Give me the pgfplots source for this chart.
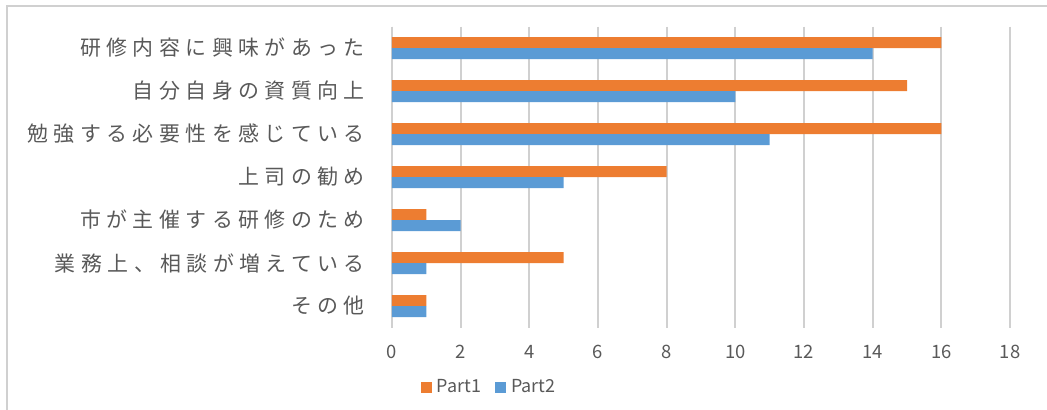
\documentclass[border=0pt]{standalone}
\usepackage{pgfplots}
\pgfplotsset{compat=1.18}
\usepackage{fontspec}
\setmainfont{Noto Sans CJK JP}
\newfontfamily\labelfont[LetterSpace=26]{Noto Sans CJK JP}
\definecolor{partone}{HTML}{ED7D31}
\definecolor{parttwo}{HTML}{5B9BD5}
\definecolor{gridgray}{HTML}{D0D0D0}
\definecolor{textgray}{HTML}{595959}

\begin{document}
\begin{tikzpicture}
\useasboundingbox (-392bp,-82.5bp) rectangle (655bp,327.5bp);
% outer chart frame (left and top edges)
\draw[gridgray, line width=1.5bp] (-385bp,-82.5bp) -- (-385bp,321.5bp) -- (655bp,321.5bp);
\begin{axis}[
  at={(0,0)}, anchor=south west,
  scale only axis, width=618bp, height=301bp,
  xbar, bar width=11bp,
  xmin=0, xmax=18, xtick={0,2,...,18},
  ymin=-0.5, ymax=6.5, y dir=reverse,
  ytick={0,...,6},
  yticklabels={研修内容に興味があった,自分自身の資質向上,勉強する必要性を感じている,上司の勧め,市が主催する研修のため,業務上、相談が増えている,その他},
  major tick length=0pt,
  xmajorgrids, grid style={gridgray, line width=2bp},
  axis lines*=left,
  x axis line style={draw=none},
  y axis line style={gridgray, line width=2bp},
  /pgf/number format/assume math mode=true,
  xticklabel style={anchor=center, yshift=-24.5bp, font=\fontsize{18.5}{20}\selectfont, text=textgray},
  yticklabel style={anchor=east, inner sep=0pt, xshift=-27bp, font=\labelfont\fontsize{21}{24}\selectfont, text=textgray},
  legend style={at={(axis description cs:0.157,-0.198)}, anchor=center, draw=none,
    font=\fontsize{18}{20}\selectfont, text=textgray,
    /tikz/every even column/.append style={column sep=12bp},
    /tikz/every odd column/.append style={column sep=3bp}},
  legend columns=2,
  legend image code/.code={\path[#1, draw=none] (0bp,-5.5bp) rectangle (11bp,5.5bp);},
]
\addplot[fill=partone, draw=none, bar shift=5.5bp] coordinates {
  (16,0) (15,1) (16,2) (8,3) (1,4) (5,5) (1,6)};
\addplot[fill=parttwo, draw=none, bar shift=-5.5bp] coordinates {
  (14,0) (10,1) (11,2) (5,3) (2,4) (1,5) (1,6)};
\legend{Part1, Part2}
\end{axis}
\end{tikzpicture}
\end{document}
